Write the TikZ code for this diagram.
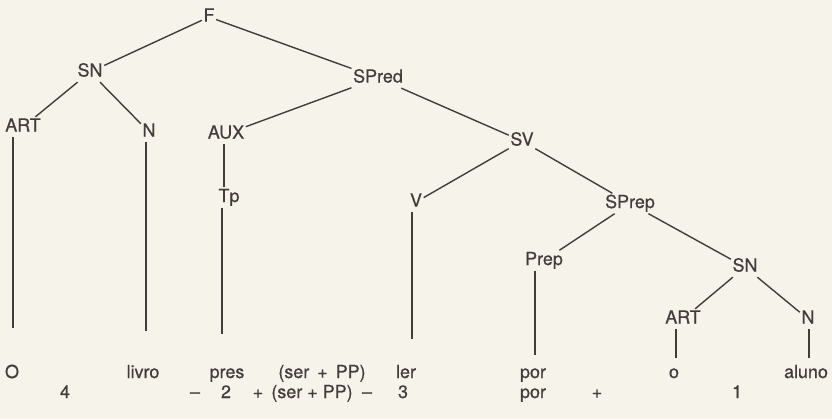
\documentclass[tikz,border=0pt]{standalone}
\usepackage{fontspec}
\setmainfont{TeX Gyre Heros}
\definecolor{ink}{RGB}{68,60,60}
\definecolor{paper}{RGB}{246,243,235}

\begin{document}
\begin{tikzpicture}[x=1bp,y=-1bp,
        cat/.style={anchor=base,inner sep=1.5bp,text height=13bp,text depth=4bp,
            font=\fontsize{18}{20}\selectfont\addfontfeature{FakeBold=0.6},text=ink},
        br/.style={draw=ink,line width=1.4bp}]
        \fill[paper] (0,0) rectangle (832,419);
        \useasboundingbox (0,0) rectangle (832,419);
        \node[cat] (F) at (209,21.5) {F};
        \node[cat] (SN) at (90,76.5) {SN};
        \node[cat] (SPred) at (378,82.5) {SPred};
        \node[cat] (ART) at (23,131.5) {ART};
        \node[cat] (N) at (149,136.5) {N};
        \node[cat] (AUX) at (226,138.5) {AUX};
        \node[cat] (Tp) at (229,202) {Tp};
        \node[cat] (SV) at (522,145.5) {SV};
        \node[cat] (V) at (416,206.5) {V};
        \node[cat] (SPrep) at (630,208) {SPrep};
        \node[cat] (Prep) at (544,265) {Prep};
        \node[cat] (SNb) at (745,271.5) {SN};
        \node[cat] (ARTb) at (683,323.5) {ART};
        \node[cat] (Nb) at (808,323.5) {N};
        \coordinate (artEnd) at (13,328);
        \coordinate (nEnd) at (146,331);
        \coordinate (tpEnd) at (222,334);
        \coordinate (vEnd) at (412,339);
        \coordinate (prepEnd) at (535,355);
        \coordinate (artbEnd) at (676,358);
        \coordinate (nbEnd) at (809,358);
        \draw[br] (F) -- (SN);
        \draw[br] (F) -- (SPred);
        \draw[br] (SN) -- (ART);
        \draw[br] (SN) -- (N);
        \draw[br] (SPred) -- (AUX);
        \draw[br] (SPred) -- (SV);
        \draw[br] (SV) -- (V);
        \draw[br] (SV) -- (SPrep);
        \draw[br] (SPrep) -- (Prep);
        \draw[br] (SPrep) -- (SNb);
        \draw[br] (SNb) -- (ARTb);
        \draw[br] (SNb) -- (Nb);
        \draw[br] ([xshift=-2bp]AUX.south) -- ([xshift=-2bp]AUX.south |- Tp.north);
        \draw[br] (ART.south -| artEnd) -- (artEnd);
        \draw[br] (N.south -| nEnd) -- (nEnd);
        \draw[br] (Tp.south -| tpEnd) -- (tpEnd);
        \draw[br] (V.south -| vEnd) -- (vEnd);
        \draw[br] (Prep.south -| prepEnd) -- (prepEnd);
        \draw[br] (ARTb.south -| artbEnd) -- (artbEnd);
        \draw[br] (Nb.south -| nbEnd) -- (nbEnd);
        \node[cat] (wO) at (12,378) {O};
        \node[cat] (wLivro) at (143,378) {livro};
        \node[cat] (wPres) at (227,378) {pres};
        \node[cat] (wSerPP) at (322,378) {(ser~\,+~\,PP)};
        \node[cat] (wLer) at (406,378) {ler};
        \node[cat] (wPor) at (533,378) {por};
        \node[cat] (wO2) at (674,378) {o};
        \node[cat] (wAluno) at (806,378) {aluno};
        \node[cat] (nFour) at (65,398) {4};
        \node[cat] (nDashA) at (195,398) {--};
        \node[cat] (nTwo) at (226,398) {2};
        \node[cat] (nPlusA) at (258,398) {+};
        \node[cat] (nSerPP) at (312,398) {(ser~+~PP)};
        \node[cat] (nDashB) at (367,398) {--};
        \node[cat] (nThree) at (403,398) {3};
        \node[cat] (nPor) at (533,398) {por};
        \node[cat] (nPlusB) at (597,398) {+};
        \node[cat] (nOne) at (737,398) {1};
\end{tikzpicture}
\end{document}
